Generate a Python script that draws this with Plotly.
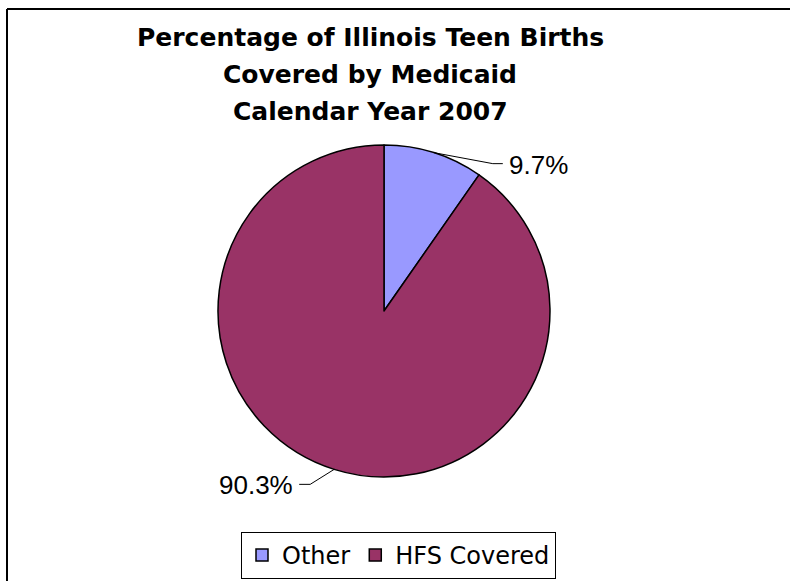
import math
import plotly.graph_objects as go

# ---- data ----
labels = ["Other", "HFS Covered"]
values = [9.7, 90.3]
colors = ["#9999FF", "#993366"]
value_labels = ["9.7%", "90.3%"]
title_lines = ["Percentage of Illinois Teen Births", "Covered by Medicaid", "Calendar Year 2007"]

# ---- layout geometry (pixels) ----
W, H = 790, 581
cx, cy, r = 384, 311, 166


def px(x):
    return x / W


def py(y):
    return 1 - y / H


fig = go.Figure(
    go.Pie(
        labels=labels,
        values=values,
        sort=False,
        direction="clockwise",
        rotation=0,
        marker=dict(colors=colors, line=dict(color="black", width=1.5)),
        textinfo="none",
        hoverinfo="label+percent",
        domain=dict(x=[px(cx - r), px(cx + r)], y=[py(cy + r), py(cy - r)]),
    )
)

annotations = []
shapes = []

# title lines
title_y = [37, 74.5, 112]
for line, ty in zip(title_lines, title_y):
    annotations.append(dict(
        text=line, x=px(370), y=py(ty), xref="paper", yref="paper",
        xanchor="center", yanchor="middle", showarrow=False,
        font=dict(family="DejaVu Sans", size=25, color="black", weight="bold"),
    ))

# leader lines and value labels (anchored at slice mid-angles)
leader_style = [(59, 11, 10), (-24, 15, -11)]
total = sum(values)
cum = 0.0
for val, lab, (edx, edy, hl) in zip(values, value_labels, leader_style):
    mid = (cum + val / 2) / total * 2 * math.pi
    cum += val
    sx = cx + r * math.sin(mid)
    sy = cy - r * math.cos(mid)
    ex, ey = sx + edx, sy + edy
    hx = ex + hl
    shapes.append(dict(
        type="path", xref="paper", yref="paper",
        path=f"M {px(sx)} {py(sy)} L {px(ex)} {py(ey)} L {px(hx)} {py(ey)}",
        line=dict(color="black", width=1),
    ))
    if hl > 0:
        tx, anchor = hx + 4, "left"
    else:
        tx, anchor = hx - 4, "right"
    annotations.append(dict(
        text=lab, x=px(tx), y=py(ey + 1), xref="paper", yref="paper",
        xanchor=anchor, yanchor="middle", showarrow=False,
        font=dict(family="Liberation Sans, Arial", size=26, color="black"),
    ))

# chart frame (top and left edges visible)
shapes.append(dict(type="line", xref="paper", yref="paper",
                   x0=px(7), y0=py(9), x1=1.0, y1=py(9),
                   line=dict(color="black", width=2)))
shapes.append(dict(type="line", xref="paper", yref="paper",
                   x0=px(7), y0=py(9), x1=px(7), y1=0.0,
                   line=dict(color="black", width=2)))

fig.update_layout(
    width=W, height=H,
    margin=dict(l=0, r=0, t=0, b=0),
    paper_bgcolor="white",
    plot_bgcolor="white",
    showlegend=True,
    legend=dict(
        orientation="h",
        x=px(398.5), xanchor="center",
        y=py(532), yanchor="top",
        bordercolor="black", borderwidth=1,
        bgcolor="white",
        font=dict(family="DejaVu Sans", size=24, color="black"),
        itemwidth=30,
    ),
    annotations=annotations,
    shapes=shapes,
)

fig.write_html(
    "out.html",
    config={"displayModeBar": False},
    post_script="document.body.style.margin='0';document.body.style.overflow='hidden';",
)
